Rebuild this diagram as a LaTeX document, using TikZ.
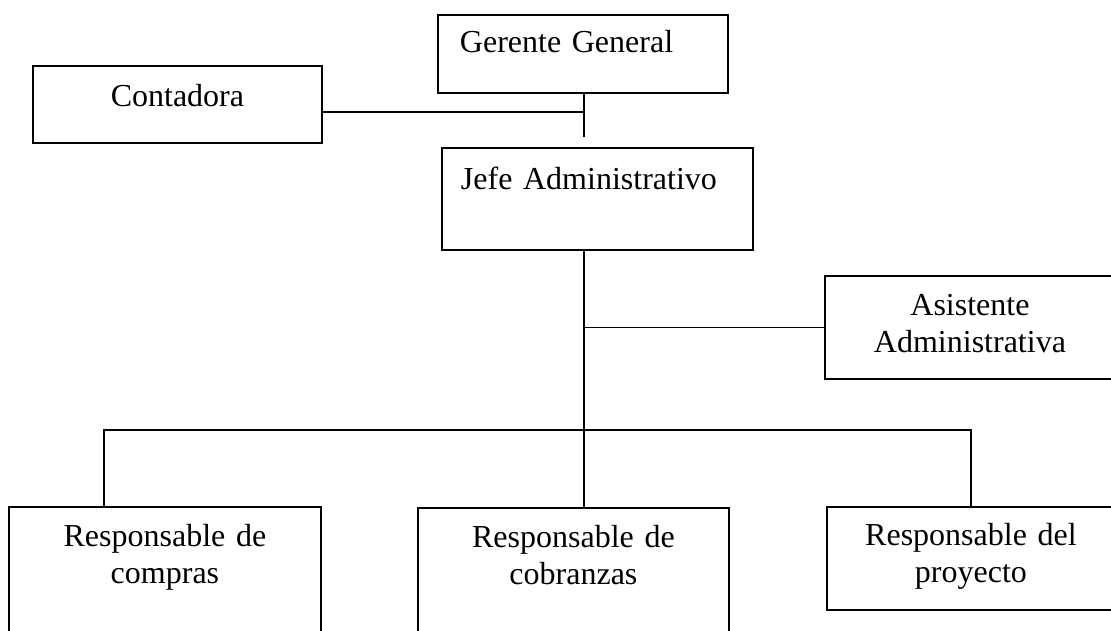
\documentclass[tikz,border=0pt]{standalone}
\usepackage{fontspec}
\setmainfont{Liberation Serif}
\tikzset{
  caja/.style={draw, line width=1.9pt, anchor=north west, inner ysep=0pt, inner xsep=0pt,
    align=center, font=\fontsize{32}{37}\selectfont},
  linea/.style={line width=1.9pt}
}
\begin{document}
\begin{tikzpicture}[x=1pt,y=-1pt]
      \useasboundingbox (0,0) rectangle (1111,631);
      \clip (0,0) rectangle (1111,631);
      \node[caja, inner xsep=22pt, text width=246pt, align=left, text height=38pt, text depth=40pt] (gerente) at (437,14) {Gerente General};
      \node[caja, text width=289pt, text height=41pt, text depth=36pt] (contadora) at (32,65) {Contadora};
      \node[caja, inner xsep=19pt, text width=273pt, align=left, text height=42pt, text depth=60pt] (jefe) at (441,147) {Jefe Administrativo};
      \node[caja, text width=290pt, text height=40pt, text depth=63pt] (asistente) at (824,275) {Asistente\\Administrativa};
      \node[caja, text width=312pt, text height=40pt, text depth=140pt] (compras) at (8,506) {Responsable de\\compras};
      \node[caja, text width=311pt, text height=40pt, text depth=140pt] (cobranzas) at (417,507) {Responsable de\\cobranzas};
      \node[caja, text width=288pt, text height=39pt, text depth=64pt] (proyecto) at (826,506) {Responsable del\\proyecto};

      \coordinate (eje) at (584,137);
      \coordinate (cruce) at (584,112);
      \coordinate (rama) at (104,430);
      \draw[linea] (gerente.south -| eje) -- (eje);
      \draw[linea] (contadora.east |- cruce) -- (cruce);
      \draw[linea] (jefe.south -| eje) -- (cobranzas.north -| eje);
      \draw[linea] (eje |- asistente.west) -- (asistente.west);
      \draw[linea] (rama |- compras.north) -- (rama) -- (rama -| proyecto.north) -- (proyecto.north);

      \end{tikzpicture}
\end{document}
